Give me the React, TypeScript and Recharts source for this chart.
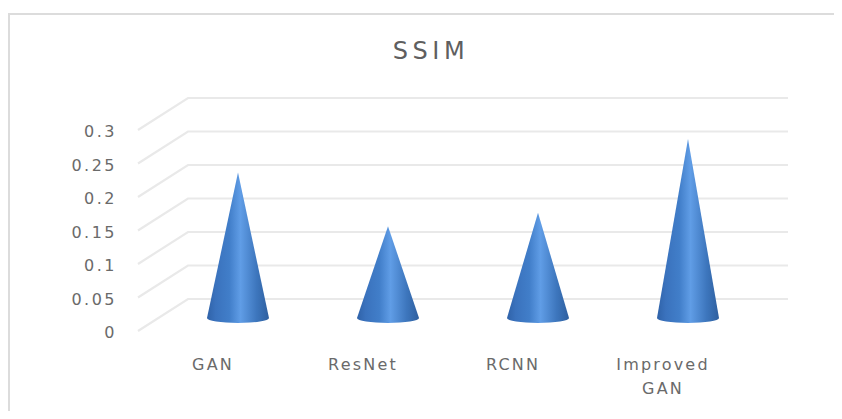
import { Bar, ComposedChart, ReferenceLine, XAxis, YAxis } from 'recharts';

const categories = ['GAN', 'ResNet', 'RCNN', 'Improved GAN'];
const ssim = [0.22, 0.14, 0.16, 0.27];
const yTicks = [0, 0.05, 0.1, 0.15, 0.2, 0.25, 0.3];

const chartData = categories.map((name, i) => ({ name, ssim: ssim[i] }));

const FONT = '"DejaVu Sans", sans-serif';
const TEXT = '#6a6a6a';

// the plot is a flat band with a fake depth: the back wall and the cones are pushed up and right
const WALL_DX = 50;
const WALL_DY = -32;
const CONE_DX = 25;
const CONE_DY = -11;
const CONE_RX = 31;
const CONE_RY = 5;

function Cone(props: any) {
  const { x, y, width, height } = props;
  const cx = x + width / 2 + CONE_DX;
  const base = y + height + CONE_DY;
  const tip = y + CONE_DY;
  const d = `M${cx},${tip} L${cx + CONE_RX},${base - 2} A${CONE_RX},${CONE_RY} 0 0 1 ${cx - CONE_RX},${base - 2} Z`;
  return <path d={d} fill="url(#coneFill)" />;
}

function WallLine(props: any) {
  const { x1, x2, y1 } = props;
  const d = `M${x1},${y1} L${x1 + WALL_DX},${y1 + WALL_DY} L${x2 + WALL_DX},${y1 + WALL_DY}`;
  return <path d={d} fill="none" stroke="#e9e9e9" strokeWidth={2.2} />;
}

function CategoryTick(props: any) {
  const { x, y, payload } = props;
  const parts = String(payload.value).split(' ');
  return (
    <text x={x} y={y + 31} textAnchor="middle" fill={TEXT} fontFamily={FONT} fontSize={16} letterSpacing={2.2}>
      {parts.map((p, i) => (
        <tspan key={p} x={x} dy={i === 0 ? 0 : 24}>
          {p}
        </tspan>
      ))}
    </text>
  );
}

function ValueTick(props: any) {
  const { x, y, payload } = props;
  return (
    <text x={x - 1} y={y + 7} textAnchor="end" fill={TEXT} fontFamily={FONT} fontSize={16} letterSpacing={2.5}>
      {payload.value}
    </text>
  );
}

export default function App() {
  return (
    <div style={{ position: 'absolute', left: 0, top: 0, width: 842, height: 419, background: '#fff' }}>
      <div
        style={{
          position: 'absolute',
          left: 10,
          top: 13,
          width: 824,
          height: 396,
          borderLeft: '2px solid #dcdcdc',
          borderTop: '2px solid #dcdcdc',
          marginLeft: -2,
        }}
      />
      <div
        style={{
          position: 'absolute',
          left: 10,
          top: 34,
          width: 842,
          textAlign: 'center',
          fontFamily: FONT,
          fontSize: 24,
          letterSpacing: 4.5,
          color: '#5f5f5f',
          lineHeight: '34px',
        }}
      >
        SSIM
      </div>
      <div style={{ position: 'absolute', left: 0, top: 0 }}>
        <ComposedChart
          width={842}
          height={419}
          data={chartData}
          margin={{ top: 130, right: 104, bottom: 48, left: 88 }}
        >
          <defs>
            <linearGradient id="coneFill" x1="0" y1="0" x2="1" y2="0">
              <stop offset="0%" stopColor="#2f62a8" />
              <stop offset="14%" stopColor="#3a72bd" />
              <stop offset="36%" stopColor="#417ec9" />
              <stop offset="54%" stopColor="#609de6" />
              <stop offset="80%" stopColor="#3d76bd" />
              <stop offset="100%" stopColor="#2e5f9f" />
            </linearGradient>
          </defs>
          <XAxis dataKey="name" interval={0} axisLine={false} tickLine={false} height={40} tick={<CategoryTick />} />
          <YAxis
            domain={[0, 0.3]}
            ticks={yTicks}
            width={50}
            axisLine={false}
            tickLine={false}
            tickMargin={14}
            tick={<ValueTick />}
          />
          {yTicks.map(t => (
            <ReferenceLine key={t} y={t} shape={<WallLine />} ifOverflow="visible" zIndex={0} />
          ))}
          <Bar dataKey="ssim" shape={<Cone />} isAnimationActive={false} zIndex={500} />
        </ComposedChart>
      </div>
    </div>
  );
}
